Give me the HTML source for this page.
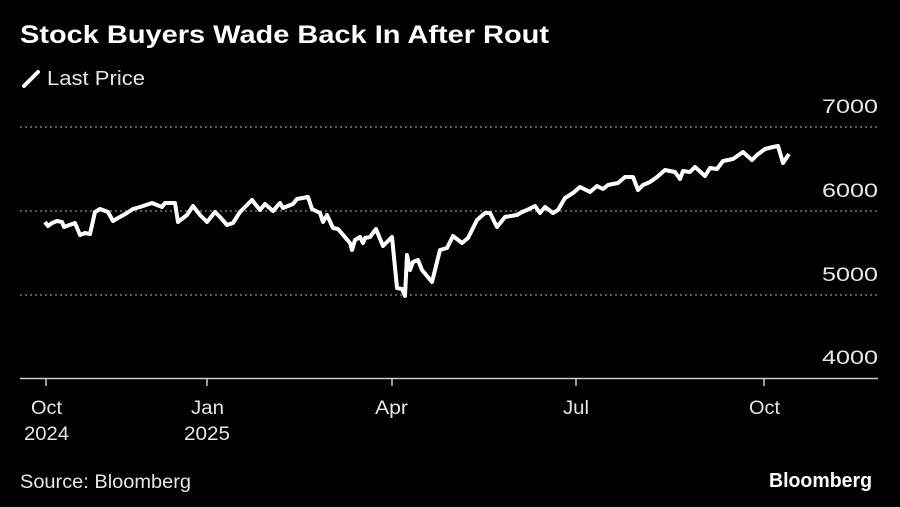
<!DOCTYPE html>
<html><head><meta charset="utf-8"><style>
body{margin:0;background:#000;width:900px;height:507px;overflow:hidden;font-family:"Liberation Sans",sans-serif;color:#fff}
</style></head><body>
<svg width="900" height="507" xmlns="http://www.w3.org/2000/svg" style="position:absolute;left:0;top:0">
<text x="20" y="43" font-size="25" font-weight="bold" fill="#fff" font-family="Liberation Sans, sans-serif" textLength="529" lengthAdjust="spacingAndGlyphs">Stock Buyers Wade Back In After Rout</text>
<line x1="24" y1="86" x2="38" y2="72" stroke="#fff" stroke-width="4" stroke-linecap="round"/>
<text x="47" y="85" font-size="20" fill="#e6e6e6" font-family="Liberation Sans, sans-serif" textLength="98" lengthAdjust="spacingAndGlyphs">Last Price</text>
<g stroke="#777" stroke-width="1.5" stroke-dasharray="2,3">
<line x1="20" y1="127" x2="878" y2="127"/><line x1="20" y1="211" x2="878" y2="211"/><line x1="20" y1="295" x2="878" y2="295"/>
</g>
<line x1="20" y1="378.5" x2="878" y2="378.5" stroke="#ccc" stroke-width="1.5"/>
<g fill="#e6e6e6" font-size="19" font-family="Liberation Sans, sans-serif" text-anchor="end">
<text x="878" y="113" textLength="56" lengthAdjust="spacingAndGlyphs">7000</text><text x="878" y="197" textLength="56" lengthAdjust="spacingAndGlyphs">6000</text><text x="878" y="281" textLength="56" lengthAdjust="spacingAndGlyphs">5000</text><text x="878" y="364" textLength="56" lengthAdjust="spacingAndGlyphs">4000</text>
</g>
<g stroke="#ccc" stroke-width="1.5"><line x1="46" y1="379" x2="46" y2="386"/><line x1="207" y1="379" x2="207" y2="386"/><line x1="392" y1="379" x2="392" y2="386"/><line x1="576" y1="379" x2="576" y2="386"/><line x1="764" y1="379" x2="764" y2="386"/></g>
<g fill="#e6e6e6" font-size="19" font-family="Liberation Sans, sans-serif">
<text x="31" y="414" textLength="31" lengthAdjust="spacingAndGlyphs">Oct</text><text x="24" y="440" textLength="45" lengthAdjust="spacingAndGlyphs">2024</text>
<text x="191" y="414" textLength="33" lengthAdjust="spacingAndGlyphs">Jan</text><text x="184" y="440" textLength="46" lengthAdjust="spacingAndGlyphs">2025</text>
<text x="375" y="414" textLength="33" lengthAdjust="spacingAndGlyphs">Apr</text><text x="563" y="414" textLength="26" lengthAdjust="spacingAndGlyphs">Jul</text><text x="749" y="414" textLength="31" lengthAdjust="spacingAndGlyphs">Oct</text>
</g>
<polyline fill="none" stroke="#fff" stroke-width="4" stroke-linejoin="round" points="45,222 48,226 52,223 57,221 62,222 64,227 75,223 80,235 85,233 90,234 95,212 100,209 108,212 113,221 118,218 127,213 133,209 140,207 152,203 162,207 165,203 175,203 178,222 187,215 193,206 200,215 207,222 215,212 220,217 227,225 233,223 240,212 252,200 260,210 265,204 273,211 280,203 283,208 293,204 297,199 308,197 312,209 320,213 323,222 327,215 333,228 338,229 350,243 352,250 355,240 360,237 363,243 365,238 370,237 376,229 383,246 392,237 397,288 402,289 405,296 407,255 410,270 413,262 418,260 422,270 432,282 440,250 447,248 453,236 462,243 468,238 477,220 485,213 490,213 497,227 505,217 517,215 522,212 527,210 535,206 540,213 545,207 553,213 558,210 565,198 573,193 580,187 590,192 597,186 603,189 608,185 618,183 625,177 633,177 638,190 643,185 650,182 657,177 665,170 675,172 680,179 683,171 690,172 695,167 705,176 710,168 717,169 723,161 733,159 743,152 752,160 757,155 765,149 773,147 778,146 783,163 789,154"/>
<text x="20" y="488" font-size="19" fill="#e6e6e6" font-family="Liberation Sans, sans-serif" textLength="171" lengthAdjust="spacingAndGlyphs">Source: Bloomberg</text>
<text x="769" y="487" font-size="20" font-weight="bold" fill="#fff" font-family="Liberation Sans, sans-serif" textLength="103" lengthAdjust="spacingAndGlyphs">Bloomberg</text>
</svg>
</body></html>
